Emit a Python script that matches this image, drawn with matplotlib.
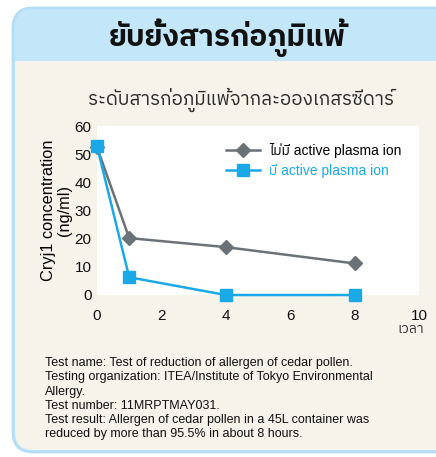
import matplotlib
matplotlib.use('Agg')
import matplotlib.pyplot as plt
from matplotlib import font_manager
from matplotlib.patches import FancyBboxPatch, Rectangle
from matplotlib.transforms import IdentityTransform

# data
hours = [0, 1, 4, 8]
without_ion = [52.5, 20.2, 17.0, 11.2]
with_ion = [52.8, 6.3, 0.0, 0.0]
label_without = 'ไม่มี active plasma ion'
label_with = 'มี active plasma ion'
title = 'ยับยั้งสารก่อภูมิแพ้'
subtitle = 'ระดับสารก่อภูมิแพ้จากละอองเกสรซีดาร์'
x_ticks = [0, 2, 4, 6, 8, 10]
y_ticks = [0, 10, 20, 30, 40, 50, 60]
x_label = 'เวลา'
y_label = 'Cryj1 concentration\n(ng/ml)'
notes = ['Test name: Test of reduction of allergen of cedar pollen.',
         'Testing organization: ITEA/Institute of Tokyo Environmental',
         'Allergy.',
         'Test number: 11MRPTMAY031.',
         'Test result: Allergen of cedar pollen in a 45L container was',
         'reduced by more than 95.5% in about 8 hours.']

# styles
thai_fonts = [f.name for f in font_manager.fontManager.ttflist if 'Thai' in f.name]
fam = ['Liberation Sans'] + thai_fonts[:1] + ['DejaVu Sans']
thai_first = thai_fonts[:1] + ['Liberation Sans', 'DejaVu Sans']
plt.rcParams['font.family'] = fam
c_gray = '#6b7277'
c_blue = '#1aa9e6'
c_header = '#c3e6f8'
c_border = '#b3def5'
c_body = '#f6f3eb'

W, H = 436, 457
fig = plt.figure(figsize=(W / 100, H / 100), dpi=100)
fig.patch.set_facecolor('white')

# card background (pixel coordinates)
outer = FancyBboxPatch((13, 5), 470, 444, boxstyle='round,pad=0,rounding_size=20',
                       facecolor=c_header, edgecolor=c_border, linewidth=2,
                       transform=IdentityTransform(), zorder=-3)
body = FancyBboxPatch((15, 7), 470, 420, boxstyle='round,pad=0,rounding_size=18',
                      facecolor=c_body, edgecolor='none', transform=IdentityTransform(),
                      zorder=-2)
header = Rectangle((15, H - 61), 470, 34, facecolor=c_header, edgecolor='none',
                   transform=IdentityTransform(), zorder=-1)
fig.patches.extend([outer, body, header])

fig.text(227 / W, 1 - 38 / H, title, ha='center', va='center', fontsize=21.5,
         fontweight='bold', color='#111111', family=thai_first)
fig.text(241 / W, 1 - 100 / H, subtitle, ha='center', va='center', fontsize=13.5,
         color='#2b2b2b', family=thai_first)

ax = fig.add_axes([97 / W, 1 - 295 / H, 322 / W, 169 / H])
ax.set_zorder(2)
ax.set_facecolor('white')
ax.plot(hours, without_ion, color=c_gray, marker='D', markersize=7, linewidth=1.8,
        clip_on=False, label=label_without, zorder=3)
ax.plot(hours, with_ion, color=c_blue, marker='s', markersize=8, linewidth=1.8,
        clip_on=False, label=label_with, zorder=4)
ax.set_xlim(0, 10)
ax.set_ylim(0, 60)
ax.set_xticks(x_ticks)
ax.set_yticks(y_ticks)
ax.tick_params(length=0, labelsize=11, colors='#111111')
ax.tick_params(axis='x', pad=10)
ax.tick_params(axis='y', pad=4)
for s in ax.spines.values():
    s.set_visible(False)
ax.set_ylabel(y_label, fontsize=11.8, labelpad=2, linespacing=1.05)
ax.text(0.975, -0.2, x_label, transform=ax.transAxes, ha='center', va='center',
        fontsize=10, color='#333333', family=thai_first)

leg = ax.legend(loc='upper right', bbox_to_anchor=(0.985, 0.975), frameon=False,
                fontsize=10, handlelength=2.4, handletextpad=0.7, labelspacing=0.42)
leg.get_texts()[1].set_color(c_blue)

fig.text(45 / W, 1 - 357 / H, '\n'.join(notes), ha='left', va='top', fontsize=9,
         linespacing=1.25, color='#111111')

fig.savefig('out.png', dpi=100)
